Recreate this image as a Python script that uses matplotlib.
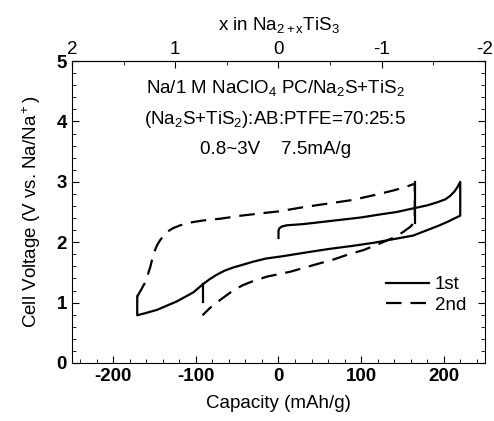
import matplotlib
matplotlib.use("Agg")
import matplotlib.pyplot as plt
from matplotlib.ticker import MultipleLocator

plt.rcParams["font.family"] = ["Liberation Sans", "DejaVu Sans"]
plt.rcParams["mathtext.fontset"] = "custom"
plt.rcParams["mathtext.rm"] = "Liberation Sans"
plt.rcParams["mathtext.it"] = "Liberation Sans"
plt.rcParams["axes.unicode_minus"] = False

# 1st cycle: charge (0 -> 220 mAh/g), then discharge back to -171
cap_1st_charge = [0, 0, 1, 4, 10, 30, 62, 100, 123, 143, 163, 180, 192, 202, 208,
                  213, 217, 220]
v_1st_charge = [2.07, 2.19, 2.23, 2.26, 2.28, 2.30, 2.35, 2.41, 2.46, 2.50, 2.56,
                2.61, 2.66, 2.71, 2.77, 2.84, 2.92, 3.0]
cap_1st_dis = [220, 220, 214, 205, 195, 180, 163, 143, 115, 90, 62, 38, 6, -15, -30,
               -45, -55, -65, -75, -83, -91, -103, -111, -123, -135, -147, -160,
               -171, -171]
v_1st_dis = [3.0, 2.44, 2.40, 2.34, 2.28, 2.20, 2.11, 2.06, 1.99, 1.94, 1.89, 1.84,
             1.77, 1.73, 1.68, 1.62, 1.58, 1.53, 1.46, 1.39, 1.31, 1.17, 1.11, 1.02,
             0.95, 0.88, 0.83, 0.79, 1.10]

# 2nd cycle: charge (-171 -> 165), then discharge to -92
cap_2nd_charge = [-171, -166, -162, -158, -155, -151.5, -147, -143, -135, -128, -119,
                  -105, -91, -70, -45, -20, 0, 30, 50, 70, 90, 119, 140, 155, 165]
v_2nd_charge = [1.10, 1.22, 1.32, 1.47, 1.60, 1.80, 1.95, 2.04, 2.17, 2.23, 2.28,
                2.33, 2.36, 2.39, 2.44, 2.48, 2.51, 2.58, 2.62, 2.66, 2.70, 2.79,
                2.86, 2.92, 2.97]
cap_2nd_dis = [165, 160, 151, 140, 123, 103, 85, 68, 42, 14, -14, -30, -43, -55, -63,
               -73, -83, -92]
v_2nd_dis = [2.34, 2.26, 2.17, 2.08, 1.98, 1.87, 1.80, 1.72, 1.62, 1.51, 1.43, 1.36,
             1.29, 1.20, 1.12, 1.02, 0.91, 0.79]

# vertical marks
mark_a_cap = [-91, -91]
mark_a_v = [1.01, 1.31]
mark_b_cap = [165, 165]
mark_b_v = [2.32, 3.0]

fig = plt.figure(figsize=(4.94, 4.21), dpi=100)
ax = fig.add_axes([0.1457, 0.1378, 0.8361, 0.7172])

lw = 1.6
dash = (0, (7, 4))
ax.plot(cap_1st_charge + cap_1st_dis, v_1st_charge + v_1st_dis, color="black",
        lw=lw, label="1st")
ax.plot(cap_2nd_charge + cap_2nd_dis, v_2nd_charge + v_2nd_dis, color="black",
        lw=lw, ls=dash, label="2nd")
ax.plot(mark_a_cap, mark_a_v, color="black", lw=lw)
ax.plot(mark_b_cap, mark_b_v, color="black", lw=lw)

ax.set_xlim(-250, 250)
ax.set_ylim(0, 5)
ax.xaxis.set_major_locator(MultipleLocator(100))
ax.xaxis.set_minor_locator(MultipleLocator(20))
ax.yaxis.set_major_locator(MultipleLocator(1))
ax.yaxis.set_minor_locator(MultipleLocator(0.2))
ax.tick_params(which="both", direction="in", right=True, labelsize=13.5)
ax.tick_params(which="major", length=5)
ax.tick_params(which="minor", length=3)
for lab in ax.get_xticklabels() + ax.get_yticklabels():
    lab.set_fontweight("bold")
ax.set_xlabel("Capacity (mAh/g)", fontsize=13.5, labelpad=7)
ax.set_ylabel(r"Cell Voltage (V vs. Na/Na$^+$)", fontsize=13.5, labelpad=10)

top = ax.secondary_xaxis("top", functions=(lambda c: -c / 125.0, lambda x: -125.0 * x))
top.xaxis.set_major_locator(MultipleLocator(1))
top.xaxis.set_minor_locator(MultipleLocator(0.5))
top.tick_params(which="both", direction="in", labelsize=13.5, pad=2)
top.tick_params(which="major", length=5)
top.tick_params(which="minor", length=3)
top.set_xlabel(r"x in Na$_{2+x}$TiS$_3$", fontsize=13.5, labelpad=8)

ax.text(-4, 4.55, r"Na/1 M NaClO$_4$ PC/Na$_2$S+TiS$_2$", ha="center", va="center", fontsize=13.5)
ax.text(-4, 4.04, r"(Na$_2$S+TiS$_2$):AB:PTFE=70:25:5", ha="center", va="center", fontsize=13.5)
ax.text(-4, 3.53, "0.8~3V    7.5mA/g", ha="center", va="center", fontsize=13.5)

ax.legend(loc="center left", bbox_to_anchor=(0.72, 0.225), frameon=False, fontsize=13.5,
          handlelength=2.3, handletextpad=0.3, labelspacing=0.2)

fig.savefig("out.png", dpi=100)
